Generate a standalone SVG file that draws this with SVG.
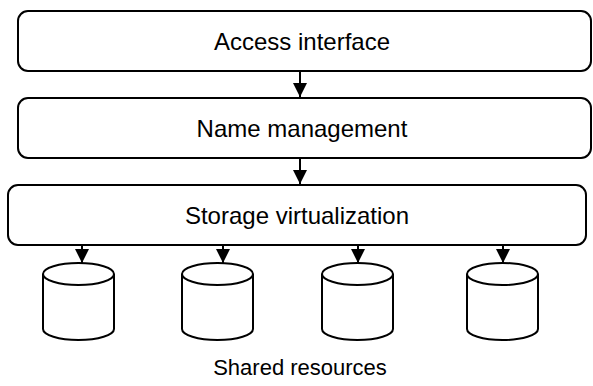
<svg xmlns="http://www.w3.org/2000/svg" width="593" height="386" viewBox="0 0 593 386">
<style>
.box{fill:#fff;stroke:#000;stroke-width:2}
.cyl{fill:#fff;stroke:#000;stroke-width:2}
.lbl{font-family:"Liberation Sans",Arial,sans-serif;font-size:24px;fill:#000;text-anchor:middle;dominant-baseline:central}
.conn{stroke:#000;stroke-width:2;fill:none}
</style>
<defs>
<marker id="arr" viewBox="0 0 14 14" refX="14" refY="7" markerWidth="14" markerHeight="14" markerUnits="userSpaceOnUse" orient="auto">
<path d="M0,0 L14,7 L0,14 Z" fill="#000"/>
</marker>
</defs>
<g id="access">
<rect class="box" x="18" y="11" width="573" height="60" rx="10"/>
<text class="lbl" x="302" y="41">Access interface</text>
</g>
<g id="name">
<rect class="box" x="18" y="98" width="573" height="60" rx="10"/>
<text class="lbl" x="302" y="128">Name management</text>
</g>
<g id="storage">
<rect class="box" x="8" y="185" width="578" height="60" rx="10"/>
<text class="lbl" x="297" y="215">Storage virtualization</text>
</g>
<g id="res1"><path class="cyl" d="M43,274 v55 a35.5,11 0 0 0 71,0 v-55 a35.5,11 0 0 0 -71,0 a35.5,11 0 0 0 71,0"/></g>
<g id="res2"><path class="cyl" d="M182,274 v55 a35.5,11 0 0 0 71,0 v-55 a35.5,11 0 0 0 -71,0 a35.5,11 0 0 0 71,0"/></g>
<g id="res3"><path class="cyl" d="M322,274 v55 a35.5,11 0 0 0 71,0 v-55 a35.5,11 0 0 0 -71,0 a35.5,11 0 0 0 71,0"/></g>
<g id="res4"><path class="cyl" d="M467,274 v55 a35.5,11 0 0 0 71,0 v-55 a35.5,11 0 0 0 -71,0 a35.5,11 0 0 0 71,0"/></g>
<g id="shared">
<text class="lbl" x="300" y="367" style="font-size:22px">Shared resources</text>
</g>
<g id="connectors">
<line class="conn" x1="300" y1="71" x2="300" y2="97" marker-end="url(#arr)"/>
<line class="conn" x1="300" y1="158" x2="300" y2="184" marker-end="url(#arr)"/>
<line class="conn" x1="82" y1="245" x2="82" y2="263" marker-end="url(#arr)"/>
<line class="conn" x1="223" y1="245" x2="223" y2="263" marker-end="url(#arr)"/>
<line class="conn" x1="358" y1="245" x2="358" y2="263" marker-end="url(#arr)"/>
<line class="conn" x1="503" y1="245" x2="503" y2="263" marker-end="url(#arr)"/>
</g>
</svg>
